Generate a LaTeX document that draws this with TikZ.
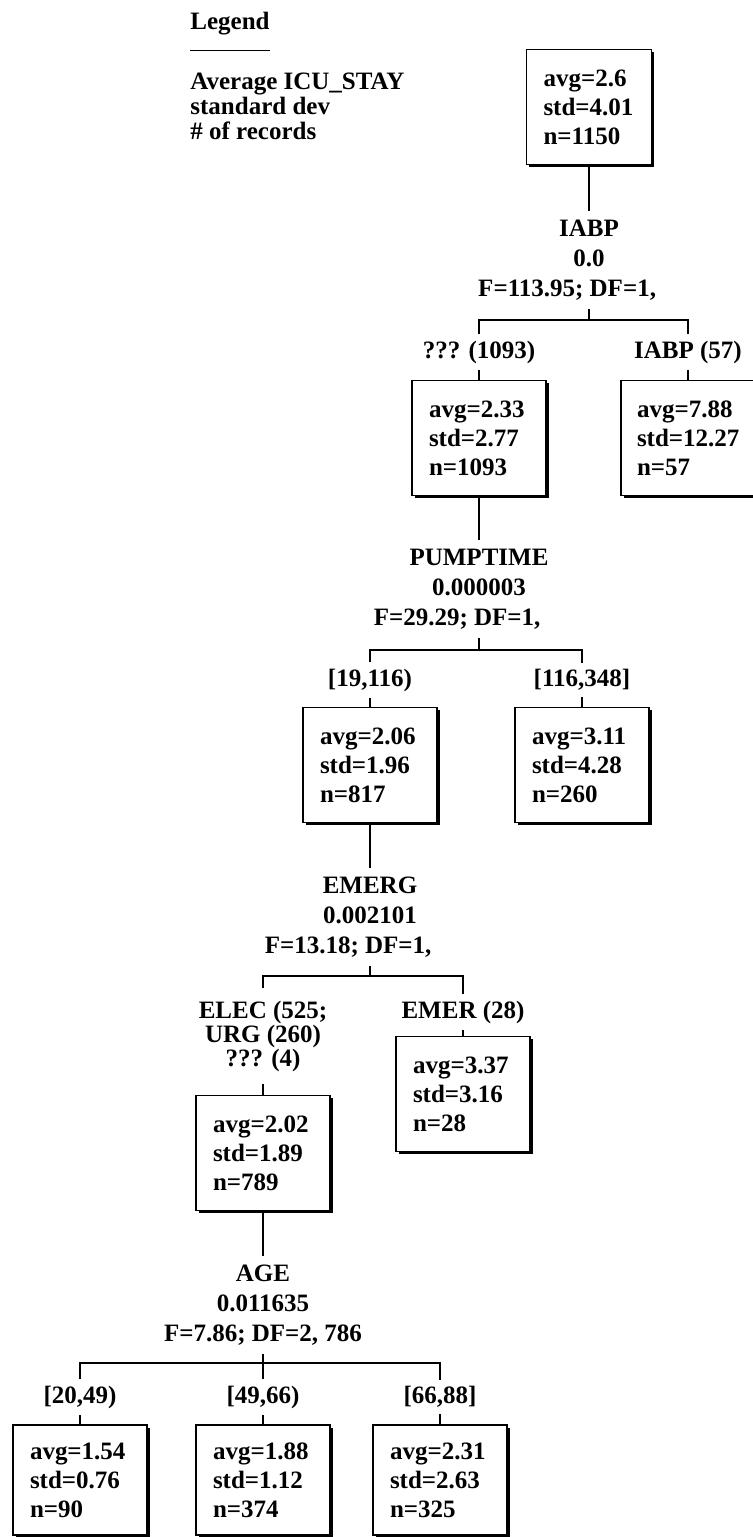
\documentclass[tikz,border=0pt]{standalone}
\usepackage{fontspec}
\setmainfont{Liberation Serif}
\usepackage{tikz}
\usetikzlibrary{shadows}

\begin{document}
\begin{tikzpicture}[
    x=0.5pt, y=-0.5pt,
    font=\fontsize{12.5}{15}\selectfont\bfseries,
    box/.style={rectangle, draw, line width=0.9pt, fill=white, text width=50pt, inner xsep=8.5pt, minimum height=57.5pt, align=left, font=\fontsize{12.5}{14.5}\selectfont\bfseries, drop shadow={shadow xshift=1.3pt, shadow yshift=-1.3pt, opacity=1, fill=black}},
    splitvar/.style={align=center, inner sep=4pt},
    branch/.style={align=center, inner ysep=3pt},
    link/.style={line width=0.8pt}
]
\useasboundingbox (0,0) rectangle (752,1537);

% Legend
\node[anchor=west, inner sep=0pt] (legend) at (190,24) {Legend};
\draw[link] ([yshift=-7.3pt]legend.south west) -- ([yshift=-7.3pt]legend.south east);
\node[anchor=north west, inner sep=0pt, align=left, font=\fontsize{12.5}{12.5}\selectfont\bfseries] (legitems) at (190,73) {Average ICU\_STAY\\standard dev\\\# of records};

% Root
\node[box, text width=45.5pt] (root) at (589,107) {avg=2.6\\std=4.01\\n=1150};

% Split on IABP
\node[splitvar] (s1) at (589,260) {IABP\\0.0\\F=113.95; DF=1,\hphantom{\ 000}};
\coordinate (k1) at (589,320);
\node[branch] (l1093) at (479,352) {??? (1093)};
\node[branch] (l57) at (688,352) {IABP (57)};
\node[box] (b1093) at (479,438) {avg=2.33\\std=2.77\\n=1093};
\node[box, text width=51pt, inner xsep=8pt] (b57) at (688,438) {avg=7.88\\std=12.27\\n=57};

% Split on PUMPTIME
\node[splitvar] (s2) at (479,589) {PUMPTIME\\0.000003\\F=29.29; DF=1,\hphantom{\ 000}};
\coordinate (k2) at (479,650);
\node[branch] (l19) at (370,680) {[19,116)};
\node[branch] (l116) at (582,680) {[116,348]};
\node[box] (b817) at (370,765) {avg=2.06\\std=1.96\\n=817};
\node[box] (b260) at (582,765) {avg=3.11\\std=4.28\\n=260};

% Split on EMERG
\node[splitvar] (s3) at (370,917) {EMERG\\0.002101\\F=13.18; DF=1,\hphantom{\ 000}};
\coordinate (k3) at (370,976);
\node[branch, inner ysep=6pt, font=\fontsize{12.5}{12}\selectfont\bfseries] (lelec) at (263,1036) {ELEC (525;\\URG (260)\\??? (4)};
\node[branch] (lemer) at (463,1012) {EMER (28)};
\node[box] (b789) at (263,1153) {avg=2.02\\std=1.89\\n=789};
\node[box] (b28) at (463,1094) {avg=3.37\\std=3.16\\n=28};

% Split on AGE
\node[splitvar] (s4) at (263,1305) {AGE\\0.011635\\F=7.86; DF=2, 786};
\coordinate (k4) at (263,1363);
\node[branch] (l20) at (80,1397) {[20,49)};
\node[branch] (l49) at (263,1397) {[49,66)};
\node[branch] (l66) at (440,1397) {[66,88]};
\node[box, minimum height=55pt] (b90) at (80,1480) {avg=1.54\\std=0.76\\n=90};
\node[box, minimum height=55pt] (b374) at (263,1480) {avg=1.88\\std=1.12\\n=374};
\node[box, minimum height=55pt] (b325) at (440,1480) {avg=2.31\\std=2.63\\n=325};

% Connectors
\draw[link] (root.south) -- (s1.north);
\draw[link] (s1.south) -- (k1);
\draw[link] (l1093.north) |- (k1) -| (l57.north);
\draw[link] (l1093.south) -- (b1093.north);
\draw[link] (l57.south) -- (b57.north);

\draw[link] (b1093.south) -- (s2.north);
\draw[link] (s2.south) -- (k2);
\draw[link] (l19.north) |- (k2) -| (l116.north);
\draw[link] (l19.south) -- (b817.north);
\draw[link] (l116.south) -- (b260.north);

\draw[link] (b817.south) -- (s3.north);
\draw[link] (s3.south) -- (k3);
\draw[link] (lelec.north) |- (k3) -| (lemer.north);
\draw[link] (lelec.south) -- (b789.north);
\draw[link] (lemer.south) -- (b28.north);

\draw[link] (b789.south) -- (s4.north);
\draw[link] (s4.south) -- (l49.north);
\draw[link] (l20.north) |- (k4) -| (l66.north);
\draw[link] (l20.south) -- (b90.north);
\draw[link] (l49.south) -- (b374.north);
\draw[link] (l66.south) -- (b325.north);

\end{tikzpicture}
\end{document}
